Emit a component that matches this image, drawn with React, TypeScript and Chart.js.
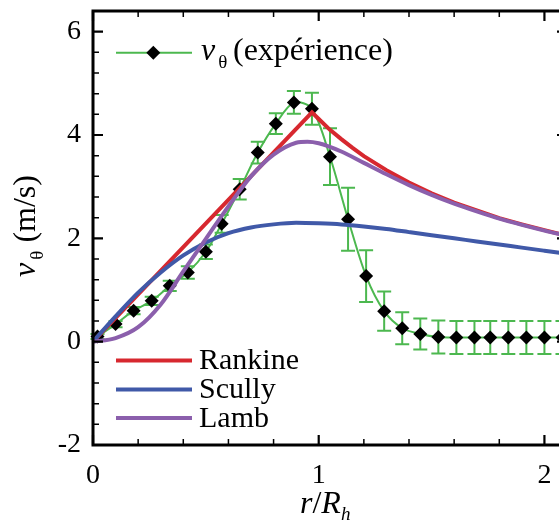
import { useEffect, useRef } from 'react';
import { Chart, registerables } from 'chart.js';

Chart.register(...registerables);

// Experimental data (r/Rh, v_theta in m/s, error bar half-height)
const expX = [0.02, 0.10, 0.18, 0.26, 0.34, 0.42, 0.50, 0.57, 0.65, 0.73, 0.81, 0.89, 0.97, 1.05, 1.13, 1.21, 1.29, 1.37, 1.45, 1.53, 1.61, 1.69, 1.76, 1.84, 1.92, 2.00, 2.08];
const expY = [0.10, 0.34, 0.60, 0.79, 1.08, 1.34, 1.74, 2.28, 2.95, 3.66, 4.22, 4.63, 4.51, 3.58, 2.37, 1.27, 0.59, 0.26, 0.15, 0.09, 0.08, 0.08, 0.08, 0.08, 0.08, 0.08, 0.08];
const expErr = [0.05, 0.06, 0.07, 0.08, 0.10, 0.12, 0.14, 0.17, 0.20, 0.21, 0.20, 0.22, 0.31, 0.55, 0.61, 0.50, 0.38, 0.31, 0.30, 0.32, 0.32, 0.32, 0.32, 0.32, 0.32, 0.32, 0.32];

// Rankine model
const rankineX = [0, 0.97, 1.0, 1.05, 1.1, 1.15, 1.2, 1.3, 1.4, 1.5, 1.6, 1.7, 1.8, 1.9, 2.0, 2.1];
const rankineY = [0, 4.44, 4.31, 4.10, 3.92, 3.75, 3.59, 3.32, 3.08, 2.87, 2.69, 2.54, 2.39, 2.27, 2.16, 2.05];

// Scully model
const scullyX = [0, 0.1, 0.2, 0.3, 0.4, 0.5, 0.6, 0.7, 0.8, 0.9, 1.0, 1.1, 1.2, 1.3, 1.4, 1.5, 1.6, 1.7, 1.8, 1.9, 2.0, 2.1];
const scullyY = [0, 0.49, 0.95, 1.34, 1.67, 1.92, 2.10, 2.21, 2.27, 2.30, 2.29, 2.27, 2.23, 2.18, 2.12, 2.06, 2.00, 1.94, 1.88, 1.82, 1.76, 1.70];

// Lamb model
const lambX = [0, 0.1, 0.2, 0.3, 0.4, 0.5, 0.6, 0.7, 0.8, 0.9, 0.95, 1.0, 1.1, 1.2, 1.3, 1.4, 1.5, 1.6, 1.7, 1.8, 1.9, 2.0, 2.1];
const lambY = [0, 0.07, 0.28, 0.72, 1.36, 1.99, 2.62, 3.20, 3.62, 3.85, 3.87, 3.84, 3.68, 3.46, 3.24, 3.03, 2.84, 2.67, 2.52, 2.38, 2.26, 2.15, 2.05];

const xTickLabels = [0, 1, 2];
const yTickLabels = [-2, 0, 2, 4, 6];
const modelNames = ['Rankine', 'Scully', 'Lamb'];

const GREEN = '#4cb84f';
const RED = '#d7282f';
const BLUE = '#4059a8';
const PURPLE = '#8b5fac';
const modelColors = [RED, BLUE, PURPLE];
const SERIF = '"Liberation Serif", "Times New Roman", serif';

function diamond(ctx: CanvasRenderingContext2D, x: number, y: number, r: number) {
  ctx.beginPath();
  ctx.moveTo(x, y - r);
  ctx.lineTo(x + r, y);
  ctx.lineTo(x, y + r);
  ctx.lineTo(x - r, y);
  ctx.closePath();
  ctx.fill();
}

const decorPlugin = {
  id: 'decor',
  beforeDatasetsDraw(chart: any) {
    const { ctx, scales } = chart;
    const xs = scales.x, ys = scales.y;
    ctx.save();
    ctx.strokeStyle = GREEN;
    ctx.lineWidth = 2;
    const cap = 7;
    expX.forEach((xv, i) => {
      const px = xs.getPixelForValue(xv);
      const top = ys.getPixelForValue(expY[i] + expErr[i]);
      const bot = ys.getPixelForValue(expY[i] - expErr[i]);
      ctx.beginPath();
      ctx.moveTo(px, top); ctx.lineTo(px, bot);
      ctx.moveTo(px - cap, top); ctx.lineTo(px + cap, top);
      ctx.moveTo(px - cap, bot); ctx.lineTo(px + cap, bot);
      ctx.stroke();
    });
    ctx.restore();
  },
  afterDraw(chart: any) {
    const { ctx, chartArea: a, scales } = chart;
    const xs = scales.x, ys = scales.y;
    ctx.save();
    ctx.strokeStyle = '#000';
    // x ticks (inward, bottom and top)
    for (let k = 0; k <= 10; k++) {
      const v = k * 0.2;
      const major = k % 5 === 0;
      const px = xs.getPixelForValue(v);
      const len = major ? 10 : 6;
      ctx.lineWidth = major ? 2.2 : 1.5;
      ctx.beginPath();
      ctx.moveTo(px, a.bottom); ctx.lineTo(px, a.bottom - len);
      ctx.moveTo(px, a.top); ctx.lineTo(px, a.top + len);
      ctx.stroke();
    }
    // y ticks (inward, left and right)
    for (let k = 0; k <= 20; k++) {
      const v = -2 + k * 0.4;
      const major = k % 5 === 0;
      const py = ys.getPixelForValue(v);
      const len = major ? 10 : 6;
      ctx.lineWidth = major ? 2.2 : 1.5;
      ctx.beginPath();
      ctx.moveTo(a.left, py); ctx.lineTo(a.left + len, py);
      ctx.moveTo(a.right, py); ctx.lineTo(a.right - len, py);
      ctx.stroke();
    }
    // frame
    ctx.lineWidth = 3;
    ctx.strokeRect(a.left, a.top, a.right - a.left, a.bottom - a.top);

    ctx.fillStyle = '#000';
    ctx.textBaseline = 'alphabetic';
    ctx.textAlign = 'left';

    // top legend: experiment
    ctx.strokeStyle = GREEN;
    ctx.lineWidth = 2;
    ctx.beginPath();
    ctx.moveTo(116, 52.7); ctx.lineTo(192, 52.7);
    ctx.stroke();
    diamond(ctx, 153.3, 52.7, 7);
    let x = 201;
    ctx.font = `italic 32px ${SERIF}`;
    ctx.fillText('v', x, 60);
    x += ctx.measureText('v').width + 3;
    ctx.font = `19px ${SERIF}`;
    ctx.fillText('θ', x, 68);
    x = 233;
    ctx.font = `32px ${SERIF}`;
    ctx.fillText('(expérience)', x, 60);

    // bottom legend: models
    const ly = [360.5, 389.5, 418];
    modelNames.forEach((name, i) => {
      ctx.strokeStyle = modelColors[i];
      ctx.lineWidth = 4;
      ctx.beginPath();
      ctx.moveTo(116, ly[i]); ctx.lineTo(192, ly[i]);
      ctx.stroke();
      ctx.font = `30px ${SERIF}`;
      ctx.fillText(name, 199, ly[i] + 8.5);
    });

    // x axis title
    x = 300;
    ctx.font = `italic 32px ${SERIF}`;
    ctx.fillText('r', x, 513);
    x += ctx.measureText('r').width;
    ctx.font = `32px ${SERIF}`;
    ctx.fillText('/', x, 513);
    x += ctx.measureText('/').width;
    ctx.font = `italic 32px ${SERIF}`;
    ctx.fillText('R', x, 513);
    x += ctx.measureText('R').width;
    ctx.font = `italic 19px ${SERIF}`;
    ctx.fillText('h', x, 520);

    // y axis title
    ctx.save();
    ctx.translate(34.5, 226);
    ctx.rotate(-Math.PI / 2);
    ctx.font = `italic 32px ${SERIF}`;
    const wv = ctx.measureText('v').width;
    ctx.font = `19px ${SERIF}`;
    const wt = ctx.measureText('θ').width;
    ctx.font = `32px ${SERIF}`;
    const wu = ctx.measureText(' (m/s)').width;
    let tx = -(wv + 3 + wt + wu) / 2;
    ctx.font = `italic 32px ${SERIF}`;
    ctx.fillText('v', tx, 0);
    tx += wv + 3;
    ctx.font = `19px ${SERIF}`;
    ctx.fillText('θ', tx, 8);
    tx += wt;
    ctx.font = `32px ${SERIF}`;
    ctx.fillText(' (m/s)', tx, 0);
    ctx.restore();

    ctx.restore();
  },
};

export default function App() {
  const ref = useRef<HTMLCanvasElement>(null);
  useEffect(() => {
    const canvas = ref.current;
    if (!canvas) return;
    const pts = (xs: number[], ys: number[]) => xs.map((v, i) => ({ x: v, y: ys[i] }));
    const chart = new Chart(canvas, {
      type: 'scatter',
      data: {
        datasets: [
          {
            label: 'vθ (expérience)',
            data: pts(expX, expY),
            showLine: true,
            borderColor: GREEN,
            borderWidth: 2,
            tension: 0.3,
            pointStyle: 'rectRot',
            pointRadius: 7,
            pointBackgroundColor: '#000',
            pointBorderColor: '#000',
            pointBorderWidth: 0,
            clip: 10,
            order: 4,
          } as any,
          {
            label: modelNames[0],
            data: pts(rankineX, rankineY),
            showLine: true,
            borderColor: RED,
            borderWidth: 4,
            tension: 0,
            pointRadius: 0,
            order: 3,
          },
          {
            label: modelNames[1],
            data: pts(scullyX, scullyY),
            showLine: true,
            borderColor: BLUE,
            borderWidth: 4,
            cubicInterpolationMode: 'monotone',
            pointRadius: 0,
            order: 2,
          } as any,
          {
            label: modelNames[2],
            data: pts(lambX, lambY),
            showLine: true,
            borderColor: PURPLE,
            borderWidth: 4,
            cubicInterpolationMode: 'monotone',
            pointRadius: 0,
            order: 1,
          } as any,
        ],
      },
      options: {
        animation: false,
        responsive: false,
        layout: { padding: { top: 11, right: 8, left: 0, bottom: 0 } },
        plugins: { legend: { display: false }, tooltip: { enabled: false } },
        scales: {
          x: {
            type: 'linear',
            min: 0,
            max: 2.1,
            grid: { display: false, drawTicks: false },
            border: { display: false },
            ticks: { color: '#000', font: { family: SERIF, size: 28 }, padding: 14, maxRotation: 0 },
            afterBuildTicks: (s: any) => { s.ticks = xTickLabels.map((v) => ({ value: v })); },
            afterFit: (s: any) => { s.height = 77; s.paddingLeft = 0; s.paddingRight = 0; },
          },
          y: {
            type: 'linear',
            min: -2,
            max: 6.4,
            grid: { display: false, drawTicks: false },
            border: { display: false },
            ticks: { color: '#000', font: { family: SERIF, size: 28 }, padding: 12 },
            afterBuildTicks: (s: any) => { s.ticks = yTickLabels.map((v) => ({ value: v })); },
            afterFit: (s: any) => { s.width = 93; s.paddingTop = 0; s.paddingBottom = 0; },
          },
        },
      },
      plugins: [decorPlugin],
    });
    return () => chart.destroy();
  }, []);
  return (
    <div style={{ position: 'fixed', left: 0, top: 0, width: 559, height: 522, overflow: 'hidden', background: '#fff' }}>
      <canvas ref={ref} width={575} height={522} style={{ display: 'block', width: 575, height: 522 }} />
    </div>
  );
}
